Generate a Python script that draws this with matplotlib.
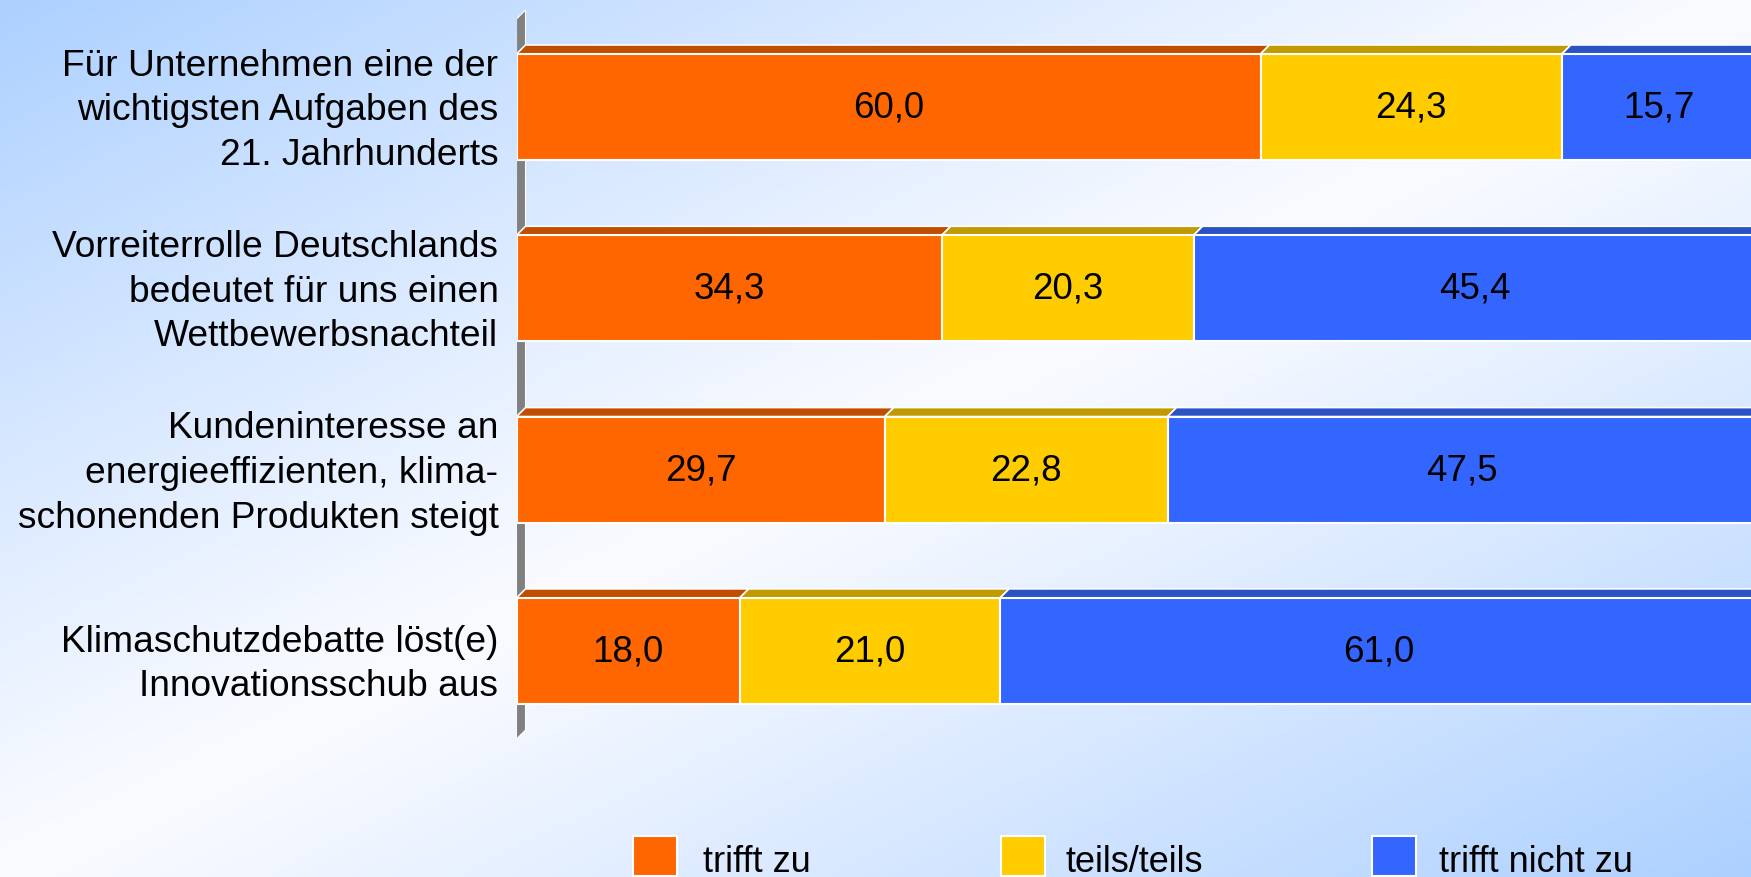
import matplotlib.pyplot as plt
from matplotlib.patches import Polygon, Rectangle
import numpy as np

plt.rcParams['font.family'] = ['Liberation Sans', 'DejaVu Sans']

# data
categories = ['Für Unternehmen eine der\nwichtigsten Aufgaben des\n21. Jahrhunderts',
              'Vorreiterrolle Deutschlands\nbedeutet für uns einen\nWettbewerbsnachteil',
              'Kundeninteresse an\nenergieeffizienten, klima-\nschonenden Produkten steigt',
              'Klimaschutzdebatte löst(e)\nInnovationsschub aus']
trifft_zu = [60.0, 34.3, 29.7, 18.0]
teils = [24.3, 20.3, 22.8, 21.0]
trifft_nicht = [15.7, 45.4, 47.5, 61.0]
series_names = ['trifft zu', 'teils/teils', 'trifft nicht zu']

front = ['#FF6600', '#FFCC00', '#3366FF']
top = ['#C04D00', '#C09A00', '#2A52C4']

W, H = 1751, 878
x0 = 516.5        # pixel of value 0
ppu = 12.4        # pixels per percent
yc0, ystep = 108, 181.3
bh = 0.585
depth = 9

fig = plt.figure(figsize=(W / 100, H / 100), dpi=100)

# background gradient
bg = fig.add_axes([0, 0, 1, 1])
gx, gy = np.meshgrid(np.linspace(0, 1, 400), np.linspace(0, 1, 200))
t = (gx + gy) / 2
f = np.clip(np.abs(t - 0.5) / 0.5, 0, 1) ** 1.1
blue = np.array([172, 208, 255]) / 255
white = np.array([250, 251, 255]) / 255
img = white + (blue - white) * f[..., None]
bg.imshow(img, aspect='auto', extent=[0, 1, 0, 1], origin='upper')
bg.axis('off')

ax = fig.add_axes([x0 / W, 0, 1 - x0 / W, 1])
ax.patch.set_alpha(0)
ax.set_xlim(0, (W - x0) / ppu)
ax.set_ylim((H - yc0) / ystep, -yc0 / ystep)
ax.axis('off')

dx = depth / ppu
dy = depth / ystep

# side wall
wall_bot = (740 - yc0) / ystep
wall_top = (20 - yc0) / ystep
ax.add_patch(Polygon([(0, wall_bot), (dx, wall_bot - dy), (dx, wall_top - dy), (0, wall_top)],
                     closed=True, fc='#808080', ec='white', lw=0.8, zorder=1))

y = np.arange(len(categories))
data = [trifft_zu, teils, trifft_nicht]
left = np.zeros(len(categories))
for k, vals in enumerate(data):
    vals = np.array(vals)
    ax.barh(y, vals, left=left, height=bh, color=front[k], edgecolor='white', linewidth=1.5, zorder=3)
    for i in range(len(y)):
        yt = y[i] - bh / 2
        ax.add_patch(Polygon([(left[i], yt), (left[i] + vals[i], yt),
                              (left[i] + vals[i] + dx, yt - dy), (left[i] + dx, yt - dy)],
                             closed=True, fc=top[k], ec='white', lw=1.2, zorder=2))
        ax.text(left[i] + vals[i] / 2, y[i], f'{vals[i]:.1f}'.replace('.', ','),
                ha='center', va='center', fontsize=26.5, zorder=4)
    left += vals

# category labels, right-aligned left of the axis
for i, lab in enumerate(categories):
    shift = -9 if lab.count('\n') == 1 else -2
    ax.annotate(lab, xy=(0, y[i]), xycoords=('axes fraction', 'data'),
                xytext=(-13, shift), textcoords='offset points',
                ha='right', va='center', fontsize=26.7, linespacing=1.36)

# legend
leg_sq = [633, 1001, 1372]
leg_tx = [703, 1066, 1439]
for k in range(3):
    fig.patches.append(Rectangle((leg_sq[k] / W, 1 - 877 / H), 44 / W, 40 / H,
                                 transform=fig.transFigure, fc=front[k], ec='white', lw=1.5))
    fig.text(leg_tx[k] / W, 1 - 872 / H, series_names[k], fontsize=26, ha='left', va='baseline')

fig.savefig('out.png', dpi=100)
